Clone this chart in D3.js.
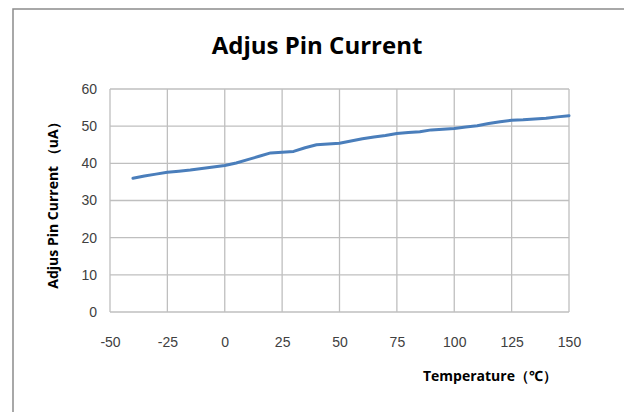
<!DOCTYPE html>
<html>
<head>
<meta charset="utf-8">
<script src="https://cdn.jsdelivr.net/npm/d3@7"></script>
<style>
  html, body { margin: 0; padding: 0; background: #fff; }
  svg { display: block; font-family: "Open Sans", "Noto Sans", sans-serif; }
  .grid line { stroke: #bfbfbf; stroke-width: 1.3; }
  .tick text { fill: #404040; font-size: 14px; }
</style>
</head>
<body>
<svg id="chart" width="624" height="412"></svg>
<script>
// Adjust pin current vs temperature.
const temps = [-40, -35, -30, -25, -20, -15, -10, -5, 0, 5, 10, 15, 20, 25, 30, 35, 40, 45, 50,
  55, 60, 65, 70, 75, 80, 85, 90, 95, 100, 105, 110, 115, 120, 125, 130, 135, 140, 145, 150];
const currents = [36.0, 36.6, 37.1, 37.6, 37.9, 38.2, 38.6, 39.0, 39.4, 40.1, 41.0, 41.9, 42.8, 43.0, 43.2,
  44.2, 45.0, 45.2, 45.4, 46.0, 46.6, 47.1, 47.5, 48.0, 48.3, 48.5, 49.0, 49.2, 49.4, 49.8, 50.1,
  50.7, 51.2, 51.6, 51.7, 51.9, 52.1, 52.5, 52.8];
const xTicks = [-50, -25, 0, 25, 50, 75, 100, 125, 150];
const yTicks = [0, 10, 20, 30, 40, 50, 60];

const svg = d3.select("#chart");
const plot = { left: 110, right: 569, top: 89, bottom: 312 };

// outer frame (its right/bottom edges fall outside the picture)
svg.append("rect")
  .attr("x", 13).attr("y", 9).attr("width", 640).attr("height", 420)
  .attr("fill", "none").attr("stroke", "#8c8c8c").attr("stroke-width", 1.5);

const x = d3.scaleLinear().domain([-50, 150]).range([plot.left, plot.right]);
const y = d3.scaleLinear().domain([0, 60]).range([plot.bottom, plot.top]);

// gridlines
const grid = svg.append("g").attr("class", "grid");
grid.selectAll("line.v").data(xTicks).join("line")
  .attr("class", "v")
  .attr("x1", x).attr("x2", x).attr("y1", plot.top).attr("y2", plot.bottom);
grid.selectAll("line.h").data(yTicks).join("line")
  .attr("class", "h")
  .attr("x1", plot.left).attr("x2", plot.right).attr("y1", y).attr("y2", y);

// axes (labels only; the grid draws the lines). Plain hyphen for negatives, like Excel.
const xAxis = svg.append("g")
  .attr("transform", `translate(0,${plot.bottom})`)
  .call(d3.axisBottom(x).tickValues(xTicks).tickSize(0).tickPadding(25).tickFormat(String));
const yAxis = svg.append("g")
  .attr("transform", `translate(${plot.left},0)`)
  .call(d3.axisLeft(y).tickValues(yTicks).tickSize(0).tickPadding(13).tickFormat(String));
xAxis.select(".domain").remove();
yAxis.select(".domain").remove();

// data line
const line = d3.line().x((d, i) => x(temps[i])).y((d) => y(d));
svg.append("path")
  .datum(currents)
  .attr("d", line)
  .attr("fill", "none")
  .attr("stroke", "#4a7ebb")
  .attr("stroke-width", 3)
  .attr("stroke-linejoin", "round")
  .attr("stroke-linecap", "round");

// titles
svg.append("text")
  .attr("x", 317).attr("y", 54)
  .attr("text-anchor", "middle")
  .attr("font-size", 24).attr("font-weight", "bold").attr("fill", "#000")
  .text("Adjus Pin Current");

svg.append("text")
  .attr("x", 490).attr("y", 381)
  .attr("text-anchor", "middle")
  .attr("font-size", 14).attr("font-weight", "bold").attr("fill", "#000")
  .text("Temperature（℃）");

svg.append("text")
  .attr("transform", "translate(58,202) rotate(-90)")
  .attr("text-anchor", "middle")
  .attr("font-size", 14).attr("font-weight", "bold").attr("fill", "#000")
  .text("Adjus Pin Current （uA）");
</script>
</body>
</html>
